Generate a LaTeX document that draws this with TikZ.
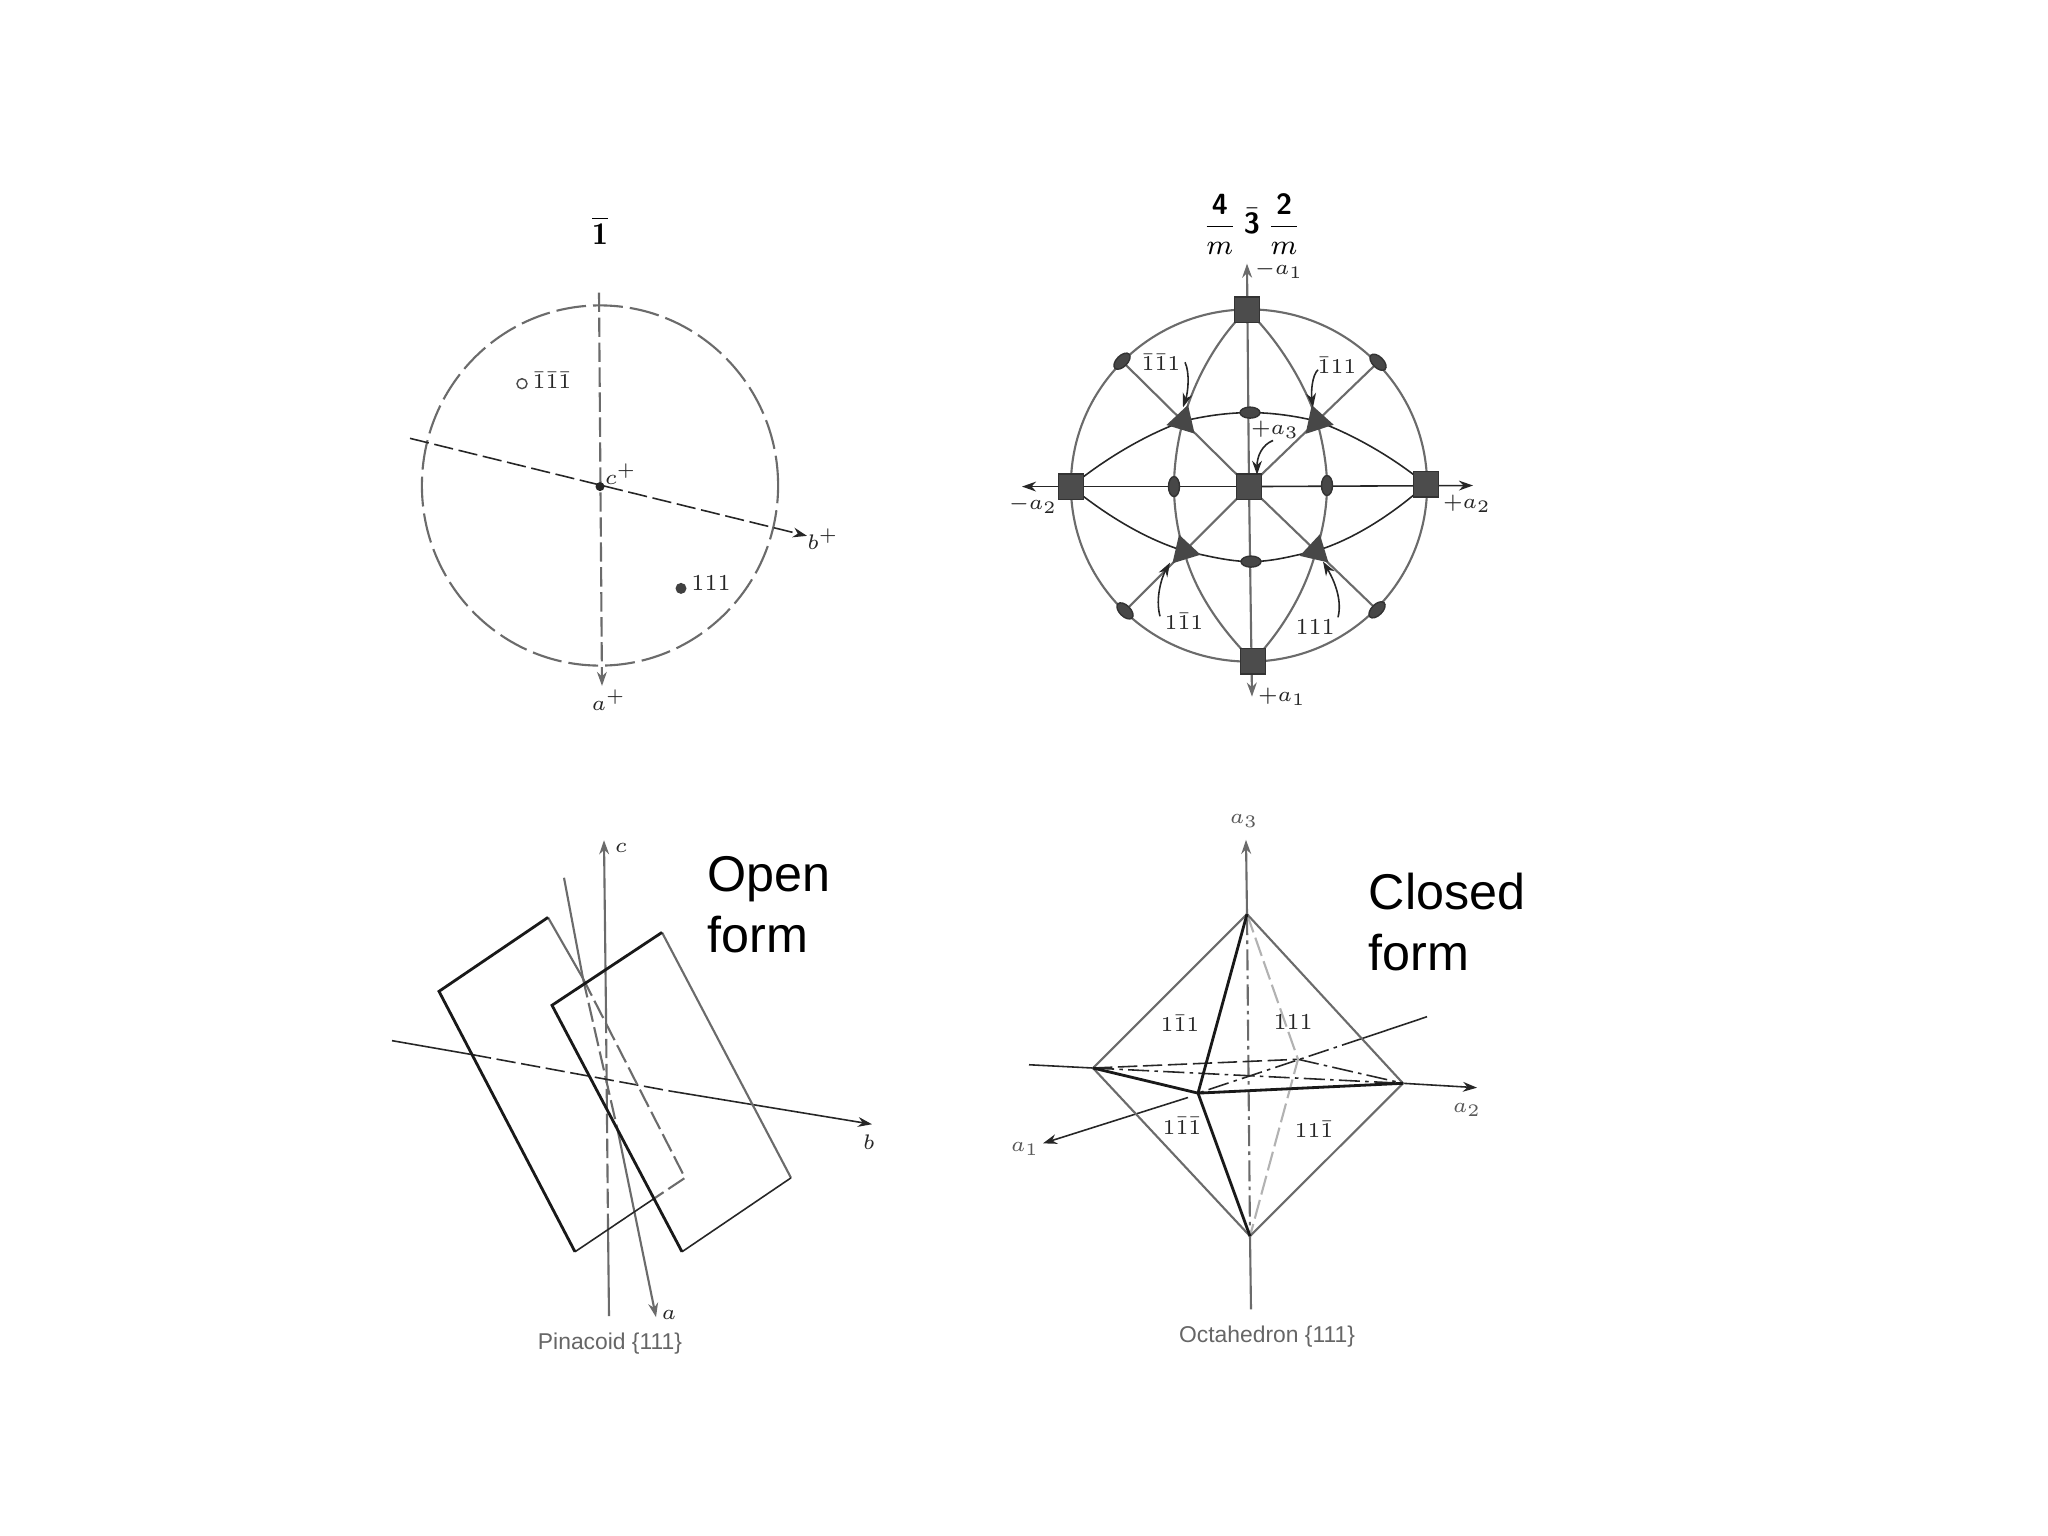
\documentclass[tikz,border=0pt]{standalone}
\usepackage{fontspec}
\newfontfamily\arialf{Liberation Sans}
\usetikzlibrary{arrows.meta,shapes.geometric,backgrounds}
\tikzset{
  >={Stealth[length=4pt,width=2.8pt]},
  lg/.style={draw=black!58,line width=0.6pt},
  dk/.style={draw=black!85,line width=0.45pt},
  hv/.style={draw=black!90,line width=0.8pt},
  dsh/.style={dash pattern=on 5.5pt off 1.6pt},
  dshc/.style={dash pattern=on 8.5pt off 2pt},
  dd/.style={dash pattern=on 6pt off 1.5pt on 1pt off 1.5pt},
  lab/.style={inner sep=0pt,text=black!85,font=\fontsize{6.5}{8}\selectfont},
  captxt/.style={inner sep=0pt,text=black!60,font=\arialf\fontsize{6.5}{8}\selectfont},
  big/.style={inner sep=0pt,anchor=base west,align=left,font=\arialf\fontsize{14.3}{17.5}\selectfont},
  sq/.style={draw=black!80,fill=black!70,rectangle,minimum size=0.255cm,inner sep=0pt},
  tri/.style={fill=black!72,regular polygon,regular polygon sides=3,minimum size=0.34cm,inner sep=0pt},
  lens/.style={fill=black!72,draw=black!80,ellipse,minimum width=0.2cm,minimum height=0.11cm,inner sep=0pt},
  pt/.style={circle,inner sep=0pt,minimum size=0.1cm},
  topq/.style={y=-0.010714cm,yshift=0.1286cm},
  blq/.style={y=-0.010714cm,yshift=0.5786cm},
  brq/.style={y=-0.010906cm,yshift=0.7157cm},
}
\begin{document}
\begin{tikzpicture}[x=0.01cm,y=-0.01cm]
\useasboundingbox (0,0) rectangle (2048,1536);
\begin{scope}[on background layer]
\fill[white] (0,0) rectangle (2048,1536);
\end{scope}

\begin{scope}[topq]
% ---------- top left: stereogram 1-bar
\node[ellipse,lg,dshc,minimum width=3.56cm,minimum height=3.6cm,inner sep=0pt] (circA) at (600,465) {};
\coordinate (aTop) at (599,285); \coordinate (aBot) at (602,652);
\coordinate (bLeft) at (410,421); \coordinate (bRight) at (807,512);
\draw[lg,dsh,->] (aTop) -- (aBot);
\draw[dk,dsh,->] (bLeft) -- (bRight);
\node[pt,fill=black!85,minimum size=0.09cm] (cen) at (600,466) {};
\node[pt,draw=black!70,fill=white,line width=0.4pt] (open) at (522,370) {};
\node[pt,fill=black!75,minimum size=0.11cm] (full) at (681,561) {};
\node[lab] (lopen) at (552,367) {$\bar1\bar1\bar1$};
\node[lab] (lfull) at (711,556) {111};
\node[lab] (lc) at (621,454) {$c^{+}$};
\node[lab] (lb) at (823,515) {$b^{+}$};
\node[lab] (la) at (609,665) {$a^{+}$};
\node[inner sep=0pt,font=\fontsize{9}{10}\selectfont] (t1) at (600,227) {$\overline{\mathbf{1}}$};

% ---------- top right: stereogram 4/m -3 2/m
\node[ellipse,lg,minimum width=3.56cm,minimum height=3.52cm,inner sep=0pt] (circB) at (1249,465) {};
\node[sq] (sT) at (1247,301) {};
\node[sq] (sL) at (1071,466) {};
\node[sq] (sC) at (1249,466) {};
\node[sq] (sR) at (1426,464) {};
\node[sq] (sB) at (1253,629) {};
\node[lens,rotate=45] (lTL) at (1122,349) {};
\node[lens,rotate=-45] (lTR) at (1378,350) {};
\node[lens,rotate=-45] (lBL) at (1125,582) {};
\node[lens,rotate=45] (lBR) at (1377,581) {};
\node[lens] (lT) at (1250,397) {};
\node[lens] (lB) at (1251,536) {};
\node[lens,rotate=90] (lL) at (1174,466) {};
\node[lens,rotate=90] (lR) at (1327,465) {};
\node[tri,rotate=-17] (tTL) at (1183,405) {};
\node[tri,rotate=18] (tTR) at (1317,405) {};
\node[tri,rotate=17] (tBL) at (1184,526) {};
\node[tri,rotate=-13] (tBR) at (1316,526) {};
\coordinate (a1T) at (1247,258); \coordinate (a1B) at (1252,662);
\coordinate (a2L) at (1022,466); \coordinate (a2R) at (1473,465);
\begin{scope}[on background layer]
\draw[lg,->] (sC.center) -- (a1T);
\draw[lg,->] (sC.center) -- (a1B);
\draw[dk,->] (sC.center) -- (a2L);
\draw[dk,->] (sC.center) -- (a2R);
\draw[lg] (lTL.center) -- (sC.center) -- (lBR.center);
\draw[lg] (lTR.center) -- (sC.center) -- (lBL.center);
\draw[lg] (sT.center) .. controls (1215,330) and (1193,370) .. (tTL.center)
  .. controls (1178,422) and (1174,445) .. (lL.center)
  .. controls (1174,487) and (1178,510) .. (tBL.center)
  .. controls (1195,565) and (1222,600) .. (sB.center);
\draw[lg] (sT.center) .. controls (1279,330) and (1305,370) .. (tTR.center)
  .. controls (1322,422) and (1327,445) .. (lR.center)
  .. controls (1327,487) and (1322,510) .. (tBR.center)
  .. controls (1305,565) and (1282,600) .. (sB.center);
\draw[dk] (sL.center) .. controls (1105,440) and (1145,418) .. (tTL.center)
  .. controls (1205,400) and (1228,397) .. (lT.center)
  .. controls (1272,397) and (1295,400) .. (tTR.center)
  .. controls (1355,418) and (1395,440) .. (sR.center);
\draw[dk] (sL.center) .. controls (1105,492) and (1145,515) .. (tBL.center)
  .. controls (1205,530) and (1228,536) .. (lB.center)
  .. controls (1274,536) and (1295,530) .. (tBR.center)
  .. controls (1355,515) and (1395,490) .. (sR.center);
\end{scope}
\node[lab] (n1) at (1161,350) {$\bar1\bar1 1$};
\node[lab] (n2) at (1337,353) {$\bar1 1 1$};
\node[lab] (n3) at (1184,592) {$1\bar1 1$};
\node[lab] (n4) at (1315,597) {111};
\node[lab] (n5) at (1279,264) {$-a_1$};
\node[lab] (n6) at (1275,413) {$+a_3$};
\node[lab] (n7) at (1033,483) {$-a_2$};
\node[lab] (n8) at (1467,482) {$+a_2$};
\node[lab] (n9) at (1282,662) {$+a_1$};
\node[inner sep=0pt,font=\fontsize{8.3}{10}\selectfont] (t2) at (1252,221)
  {$\displaystyle\frac{\textbf{\sffamily 4}}{m}\:\bar{\textbf{\sffamily 3}}\:\frac{\textbf{\sffamily 2}}{m}$};
\coordinate (q1) at (1185,350); \coordinate (q2) at (1318,357); \coordinate (q3) at (1273,423);
\coordinate (q4) at (1160,587); \coordinate (q5) at (1338,588);
\coordinate (r1) at (1183,392); \coordinate (r2) at (1313,392); \coordinate (r3) at (1257,455);
\coordinate (r4) at (1170,537); \coordinate (r5) at (1323,536);
\draw[dk,line width=0.45pt,->] (q1) .. controls (1190,360) and (1188,378) .. (r1);
\draw[dk,line width=0.45pt,->] (q2) .. controls (1312,362) and (1311,378) .. (r2);
\draw[dk,line width=0.45pt,->] (q3) .. controls (1262,427) and (1257,438) .. (r3);
\draw[dk,line width=0.45pt,->] (q4) .. controls (1155,570) and (1162,550) .. (r4);
\draw[dk,line width=0.45pt,->] (q5) .. controls (1343,570) and (1332,550) .. (r5);
\end{scope}

\begin{scope}[blq]
% ---------- bottom left: pinacoid
\coordinate (A1) at (439,979); \coordinate (A2) at (548,910); \coordinate (A3) at (685,1153); \coordinate (A4) at (575,1222);
\coordinate (Aq) at (583,967); \coordinate (Ap) at (653,1173);
\coordinate (B1) at (552,992); \coordinate (B2) at (662,924); \coordinate (B3) at (791,1153); \coordinate (B4) at (682,1222);
\coordinate (aS) at (564,873); \coordinate (aE) at (656,1283); \coordinate (aB) at (618,1110);
\coordinate (cS) at (609,1282); \coordinate (cE) at (604,838); \coordinate (cA) at (606,1000); \coordinate (cB) at (608,1197);
\coordinate (bS) at (392,1025); \coordinate (bE) at (872,1103); \coordinate (bA) at (472,1038); \coordinate (bB) at (670,1072);
\draw[lg,->] (cA) -- (cE);
\draw[lg,dsh] (cA) -- (cB);
\draw[lg] (cB) -- (cS);
\draw[lg] (aS) -- (Aq);
\draw[lg,dsh] (Aq) -- (aB);
\draw[lg,->] (aB) -- (aE);
\draw[dk] (bS) -- (bA);
\draw[dk,dsh] (bA) -- (bB);
\draw[dk,->] (bB) -- (bE);
\draw[lg] (A2) -- (Aq);
\draw[lg,dsh] (Aq) -- (A3) -- (Ap);
\draw[dk] (Ap) -- (A4);
\draw[hv] (A4) -- (A1) -- (A2);
\draw[lg] (B2) -- (B3);
\draw[dk] (B3) -- (B4);
\draw[hv] (B4) -- (B1) -- (B2);
\node[lab] (pc) at (621,845) {$c$};
\node[lab] (pa) at (669,1281) {$a$};
\node[lab] (pb) at (869,1120) {$b$};
\node[captxt] (pn) at (610,1308) {Pinacoid \{111\}};
\node[big] (openform) at (707,943) {Open\\form};
\end{scope}

\begin{scope}[brq]
% ---------- bottom right: octahedron
\coordinate (T) at (1247,903); \coordinate (Bo) at (1250,1198);
\coordinate (L) at (1093,1044); \coordinate (R) at (1403,1058);
\coordinate (F) at (1198,1067); \coordinate (K) at (1298,1036);
\coordinate (z1) at (1251,1265); \coordinate (z2) at (1246,835);
\coordinate (x1) at (1427,997); \coordinate (x2) at (1043,1113); \coordinate (x3) at (1362,1017); \coordinate (x4) at (1188,1071);
\coordinate (y1) at (1029,1041); \coordinate (y2) at (1477,1062);
\draw[lg,->] (T) -- (z2);
\draw[lg] (Bo) -- (z1);
\draw[lg,dd] (T) -- (Bo);
\draw[dk] (x1) -- (x3);
\draw[dk,dd] (x3) -- (F);
\draw[dk,->] (x4) -- (x2);
\draw[dk] (y1) -- (L);
\draw[dk,dd] (L) -- (R);
\draw[dk,->] (R) -- (y2);
\draw[dk,dsh] (L) -- (K);
\draw[dk,dd] (K) -- (R);
\draw[draw=black!30,line width=0.6pt,dsh] (T) -- (K) -- (Bo);
\draw[lg] (L) -- (T) -- (R) -- (Bo) -- (L);
\draw[hv] (T) -- (F) -- (Bo);
\draw[hv] (L) -- (F) -- (R);
\node[lab] (o1) at (1180,1003) {$1\bar1 1$};
\node[lab] (o2) at (1293,1002) {111};
\node[lab] (o3) at (1182,1097) {$1\bar1\bar1$};
\node[lab] (o4) at (1314,1100) {$11\bar1$};
\node[lab,text=black!65] (o5) at (1244,818) {$a_3$};
\node[lab,text=black!65] (o6) at (1467,1082) {$a_2$};
\node[lab,text=black!65] (o7) at (1025,1118) {$a_1$};
\node[captxt] (oc) at (1267,1290) {Octahedron \{111\}};
\node[big] (closedform) at (1368,955) {Closed\\form};
\end{scope}
\end{tikzpicture}
\end{document}
